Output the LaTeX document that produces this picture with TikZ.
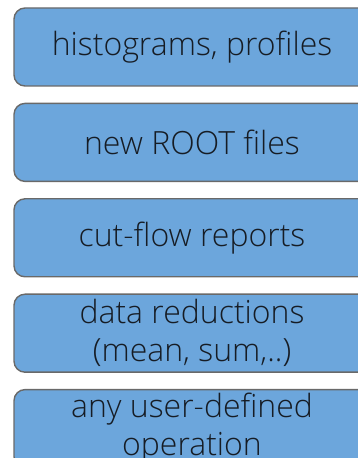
\documentclass[tikz,border=0pt]{standalone}
\usepackage{fontspec}
\setmainfont{Open Sans}[UprightFont=* Light]
\usepackage{tikz}
\usetikzlibrary{positioning}
\definecolor{boxfill}{RGB}{108,166,220}
\definecolor{boxline}{RGB}{105,105,105}
\definecolor{boxtext}{RGB}{22,28,36}
\tikzset{
  outbox/.style={draw=boxline, line width=1.4pt, fill=boxfill, rounded corners=11pt,
    minimum width=356pt, minimum height=78pt, inner sep=0pt, align=center,
    text=boxtext, font=\fontsize{32}{38}\selectfont}
}
\begin{document}
\begin{tikzpicture}[x=1pt, y=1pt, node distance=16pt]
  \useasboundingbox (0,0) rectangle (358,458);
  \clip (0,0) rectangle (358,458);
  \node[outbox] (hist) at (192,411) {histograms, profiles};
  \node[outbox, below=of hist] (files) {new ROOT files};
  \node[outbox, below=of files] (cutflow) {cut-flow reports};
  \node[outbox, below=of cutflow] (reduce) {data reductions\\(mean, sum,..)};
  \node[outbox, below=of reduce] (userop) {any user-defined\\operation};
\end{tikzpicture}
\end{document}
